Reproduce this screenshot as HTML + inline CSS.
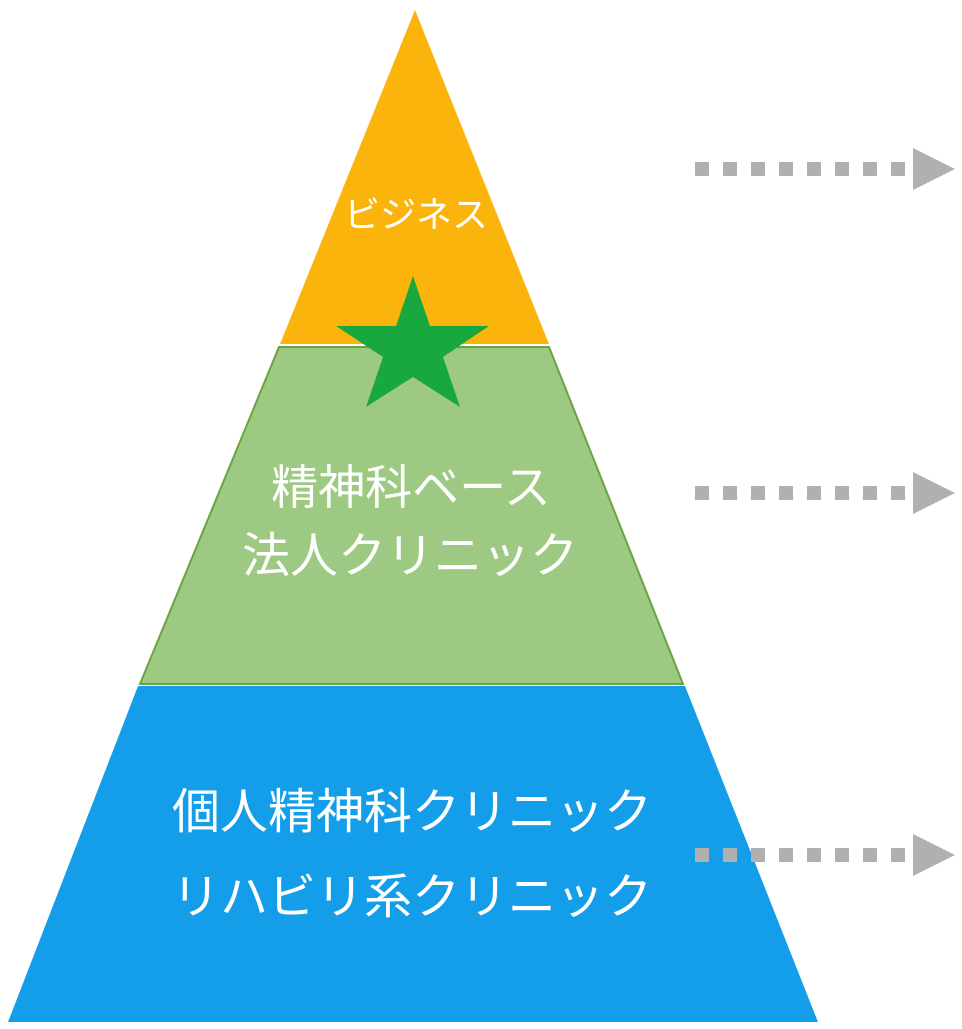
<!DOCTYPE html>
<html><head><meta charset="utf-8"><style>
html,body{margin:0;padding:0;background:#fff;}
svg text{font-family:"Liberation Sans","Noto Sans CJK JP",sans-serif;fill:#fff;text-anchor:middle;}
</style></head><body>
<svg width="962" height="1024" xmlns="http://www.w3.org/2000/svg">
<polygon points="415,10 549,344 280,344" fill="#fbb40c"/>
<polygon points="279,347 549,347 683,684 140,684" fill="#9dc982" stroke="#6aa43c" stroke-width="2"/>
<polygon points="138,686 685,686 818,1022 8,1022" fill="#149eea"/>
<polygon points="413,276 430,326 489,326 443,357 460,407 413,377 366,407 383,357 336,326 396,326" fill="#19a83f"/>
<text x="416" y="227" font-size="36">ビジネス</text>
<text x="411" y="504" font-size="47">精神科ベース</text>
<text x="410" y="572" font-size="48">法人クリニック</text>
<text x="412" y="828" font-size="48">個人精神科クリニック</text>
<text x="412" y="913" font-size="48">リハビリ系クリニック</text>
<g fill="#b0b0b0">
<g id="a">
<rect x="695" y="162" width="14" height="14"/><rect x="723" y="162" width="14" height="14"/><rect x="751" y="162" width="14" height="14"/><rect x="779" y="162" width="14" height="14"/><rect x="807" y="162" width="14" height="14"/><rect x="835" y="162" width="14" height="14"/><rect x="863" y="162" width="14" height="14"/><rect x="891" y="162" width="14" height="14"/>
<polygon points="913,148 955,169 913,190"/>
</g>
<use href="#a" y="324"/>
<use href="#a" y="686"/>
</g>
</svg>
</body></html>
